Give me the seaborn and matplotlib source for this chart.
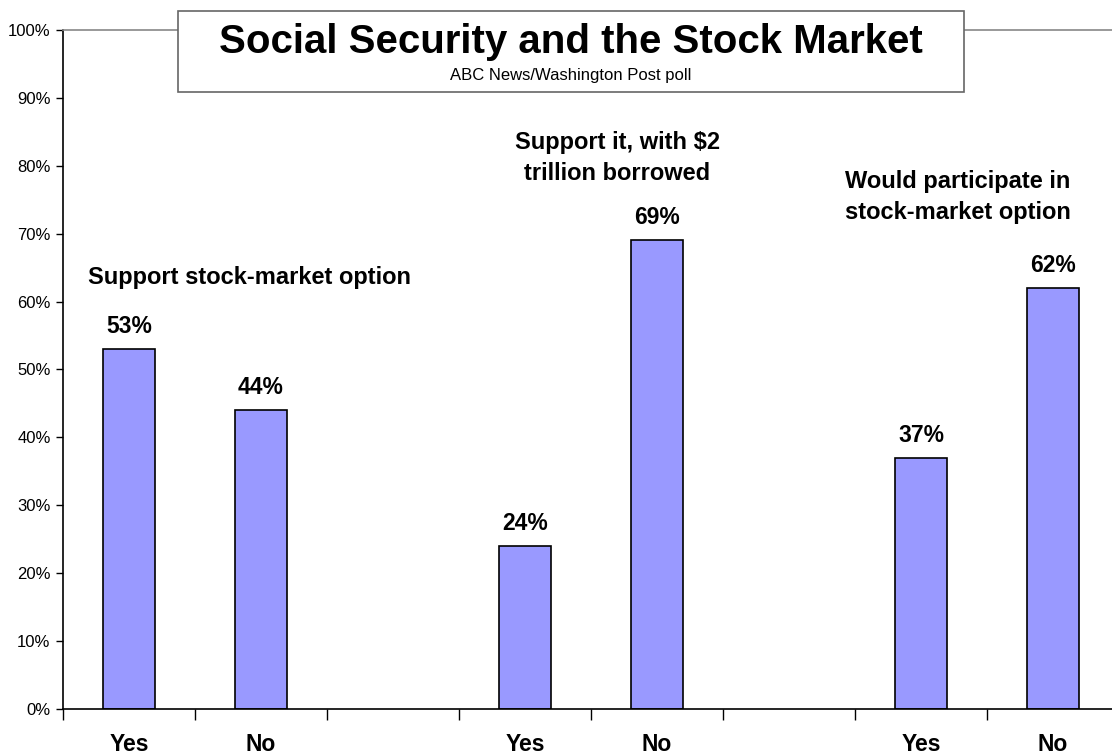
import numpy as np
import pandas as pd
import matplotlib
matplotlib.use("Agg")
import matplotlib.pyplot as plt
from matplotlib.patches import Rectangle
from matplotlib.ticker import FixedLocator, PercentFormatter
import seaborn as sns

# data
slots = ["Yes support", "No support", "gap 1", "Yes borrowed", "No borrowed",
         "gap 2", "Yes participate", "No participate"]
values = [53, 44, np.nan, 24, 69, np.nan, 37, 62]
tick_labels = ["Yes", "No", "", "Yes", "No", "", "Yes", "No"]
group_notes = ["Support stock-market option",
               "Support it, with $2\ntrillion borrowed",
               "Would participate in\nstock-market option"]
note_x = [0.91, 3.70, 6.28]
note_y = [63.6, 81.1, 75.4]

df = pd.DataFrame({"slot": slots, "value": values})

sns.set_style("white")
plt.rcParams["font.family"] = ["Liberation Sans", "DejaVu Sans"]
plt.rcParams["text.color"] = "black"
plt.rcParams["xtick.color"] = "black"
plt.rcParams["ytick.color"] = "black"
plt.rcParams["axes.labelcolor"] = "black"

fig = plt.figure(figsize=(11.12, 7.56), dpi=100)
ax = fig.add_axes([0.0567, 0.0622, 0.9496, 0.8981])

sns.barplot(data=df, x="slot", y="value", order=slots, color="#9999FF",
            saturation=1, width=0.4, edgecolor="black", linewidth=1.2, ax=ax)

ax.set_xlim(-0.5, len(slots) - 0.5)
ax.set_ylim(0, 100)
ax.set_xlabel("")
ax.set_ylabel("")

ax.yaxis.set_major_locator(FixedLocator(np.arange(0, 101, 10)))
ax.yaxis.set_major_formatter(PercentFormatter(decimals=0))
ax.tick_params(axis="y", left=True, length=5, width=1, color="black",
               labelsize=12, pad=4)

ax.set_xticks(range(len(slots)))
ax.set_xticklabels(tick_labels, fontsize=16.5, fontweight="bold")
ax.tick_params(axis="x", which="major", length=0, pad=17)
ax.xaxis.set_minor_locator(FixedLocator(np.arange(-0.5, len(slots), 1)))
ax.tick_params(axis="x", which="minor", bottom=True, length=8, width=1,
               color="black")

for side in ["left", "bottom"]:
    ax.spines[side].set_color("black")
    ax.spines[side].set_linewidth(1.2)
for side in ["top", "right"]:
    ax.spines[side].set_color("#888888")
    ax.spines[side].set_linewidth(1.2)

for cont in ax.containers:
    labels = ["" if np.isnan(h) else f"{h:.0f}%" for h in cont.datavalues]
    ax.bar_label(cont, labels=labels, padding=8, fontsize=16.5,
                 fontweight="bold")

for txt, x, y in zip(group_notes, note_x, note_y):
    ax.text(x, y, txt, ha="center", va="center", fontsize=17,
            fontweight="bold", linespacing=1.45)

# title box sitting over the top of the plot area
fig.patches.append(Rectangle((0.160, 0.8783), 0.7068, 0.1071,
                             transform=fig.transFigure, facecolor="white",
                             edgecolor="#666666", linewidth=1.2, zorder=5))
fig.text(0.5135, 0.9444, "Social Security and the Stock Market",
         ha="center", va="center", fontsize=29, fontweight="bold", zorder=6)
fig.text(0.5135, 0.8995, "ABC News/Washington Post poll",
         ha="center", va="center", fontsize=12, zorder=6)

fig.savefig("out.png", dpi=100)
